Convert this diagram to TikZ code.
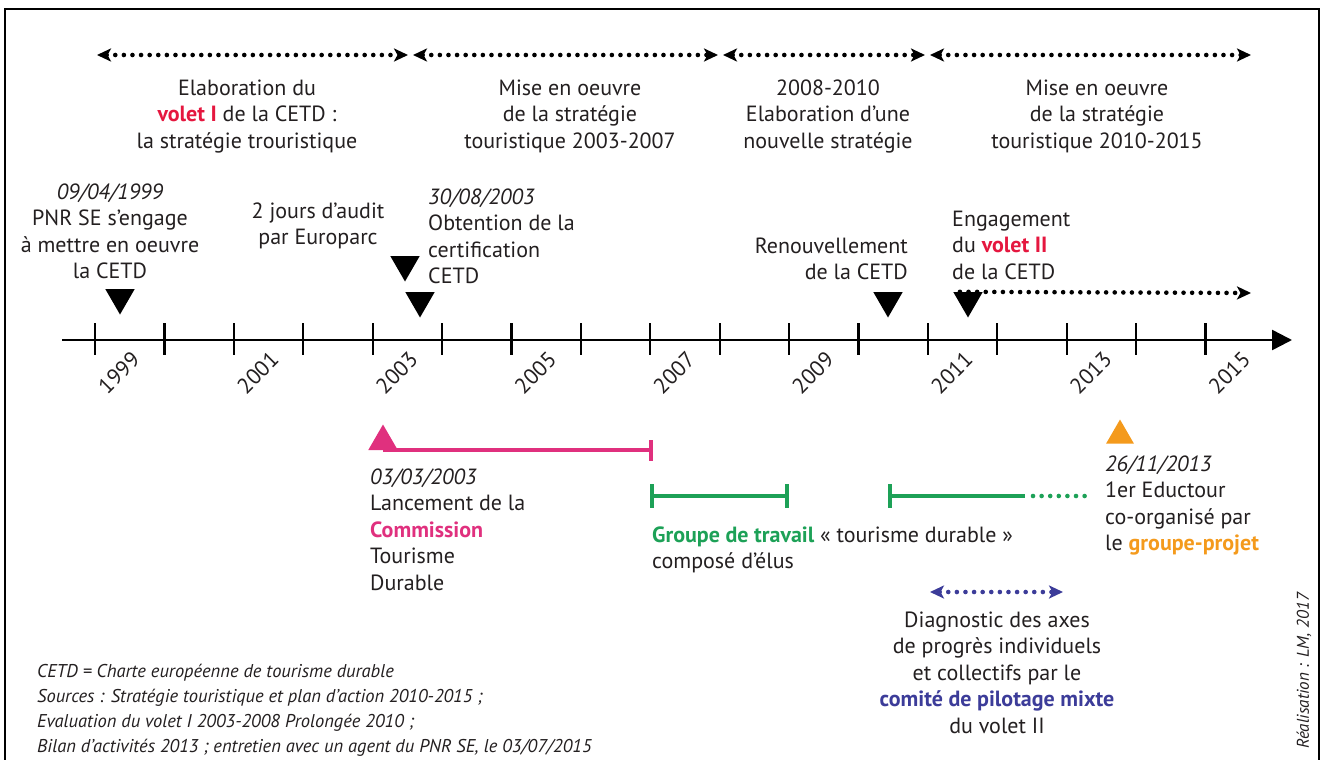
\documentclass[tikz,border=0pt]{standalone}
\usepackage{fontspec}
\setmainfont{PT Sans}
\usetikzlibrary{arrows.meta,shapes.geometric}
\definecolor{voletred}{HTML}{E5173F}
\definecolor{pinkc}{HTML}{E0307E}
\definecolor{greenc}{HTML}{1DA157}
\definecolor{orangec}{HTML}{F49A1C}
\definecolor{bluec}{HTML}{3C3C99}
\definecolor{txtc}{HTML}{231F20}
\begin{document}
\begin{tikzpicture}[x=1pt,y=-1pt,
  txt/.style={font=\fontsize{22}{26.5}\selectfont, inner sep=0pt, text=txtc},
  year/.style={font=\fontsize{22}{26.5}\selectfont, inner sep=0pt, rotate=45, text=txtc},
  note/.style={font=\fontsize{18.5}{25}\selectfont\itshape, inner sep=0pt, align=left, anchor=base west, text=txtc},
  tip/.style={Stealth[length=14pt,width=13pt,inset=3.5pt]},
  dotarrow/.style={line width=4.6pt, line cap=round, dash pattern=on 0pt off 8.6pt,
     {Stealth[length=14pt,width=13pt,inset=3.5pt]}-{Stealth[length=14pt,width=13pt,inset=3.5pt]}},
  dotline/.style={line width=4.6pt, line cap=round, dash pattern=on 0pt off 8.6pt},
  tickst/.style={line width=2.2pt},
  downtri/.style={regular polygon, regular polygon sides=3, shape border rotate=180,
     minimum size=34pt, inner sep=0pt, fill=black, draw=none},
  uptri/.style={regular polygon, regular polygon sides=3,
     minimum size=34pt, inner sep=0pt, draw=none},
  seg/.style={line width=3.5pt},
]
\useasboundingbox (0,0) rectangle (1325,760);
\draw[line width=2.5pt] (5,765) -- (5,9) -- (1319,9) -- (1319,765);

% top period arrows
\coordinate (p1a) at (97,55);  \coordinate (p1b) at (408,55);
\coordinate (p2a) at (413,55); \coordinate (p2b) at (718,55);
\coordinate (p3a) at (723,55); \coordinate (p3b) at (925,55);
\coordinate (p4a) at (930,55); \coordinate (p4b) at (1251,55);
\draw[dotarrow] (p1a) -- (p1b);
\draw[dotarrow] (p2a) -- (p2b);
\draw[dotarrow] (p3a) -- (p3b);
\draw[dotarrow] (p4a) -- (p4b);

\node[txt, align=center, anchor=base] (per1) at (247,148)
  {Elaboration du\\ \textbf{\color{voletred}volet I} de la CETD :\\ la stratégie trouristique};
\node[txt, align=center, anchor=base] (per2) at (570,148)
  {Mise en oeuvre\\ de la stratégie\\ touristique 2003-2007};
\node[txt, align=center, anchor=base] (per3) at (828,148)
  {2008-2010\\ Elaboration d’une\\ nouvelle stratégie};
\node[txt, align=center, anchor=base] (per4) at (1097,148)
  {Mise en oeuvre\\ de la stratégie\\ touristique 2010-2015};

% axis
\coordinate (axS) at (62,340);
\coordinate (axE) at (1292,340);
\draw[line width=2.5pt, -{Triangle[length=20pt,width=20pt]}] (axS) -- (axE);
\foreach \i in {0,...,16} \draw[tickst] ({95+69.4*\i},323) -- ++(0,32);
\foreach \y [count=\k from 0] in {1999,2001,2003,2005,2007,2009,2011,2013,2015}
  \node[year] (y\y) at ({95+138.8*\k+24},373) {\y};

% events above
\node[downtri] (m1999) at (120,297.5) {};
\node[downtri] (maudit) at (405,264.5) {};
\node[downtri] (mcert) at (420,300.5) {};
\node[downtri] (mrenouv) at (888,300.5) {};
\node[downtri] (mvolet2) at (968,300.5) {};
\coordinate (v2end) at (1251,293);
\draw[dotline, -{Stealth[length=14pt,width=13pt,inset=3.5pt]}] (mvolet2.corner 3) ++(7,0) -- (v2end);

\node[txt, align=center, anchor=base] (e1999) at (110,278.5)
  {\textit{09/04/1999}\\ PNR SE s’engage\\ à mettre en oeuvre\\ la CETD};
\node[txt, align=center, anchor=base] (eaudit) at (318,244.5)
  {2 jours d’audit\\ par Europarc};
\node[txt, align=left, anchor=base west] (ecert) at (428,283.5)
  {\textit{30/08/2003}\\ Obtention de la\\ certification\\ CETD};
\node[txt, align=right, anchor=base east] (erenouv) at (908,279.5)
  {Renouvellement\\ de la CETD};
\node[txt, align=left, anchor=base west] (evolet2) at (952,279)
  {Engagement\\ du \textbf{\color{voletred}volet II}\\ de la CETD};

% below: commission
\node[uptri, fill=pinkc] (mcomm) at (383,441.5) {};
\coordinate (commEnd) at (651,450);
\draw[seg, pinkc] (mcomm.center |- commEnd) -- (commEnd);
\draw[seg, pinkc] (651,440) -- (651,461);
\node[txt, align=left, anchor=base west] (ecomm) at (370,590)
  {\textit{03/03/2003}\\ Lancement de la\\ \textbf{\color{pinkc}Commission}\\ Tourisme\\ Durable};

% groupe de travail
\coordinate (g1a) at (652,496); \coordinate (g1b) at (787,496);
\coordinate (g2a) at (890,496); \coordinate (g2b) at (1025,496);
\coordinate (g2c) at (1085,496);
\draw[seg, greenc] (g1a) -- (g1b);
\draw[seg, greenc] (652,484) -- (652,508);
\draw[seg, greenc] (787,484) -- (787,508);
\draw[seg, greenc] (g2a) -- (g2b);
\draw[seg, greenc] (890,484) -- (890,508);
\draw[dotline, greenc] (g2b) ++(8,0) -- (g2c);
\node[txt, align=left, anchor=base west] (egroupe) at (652,568.5)
  {\textbf{\color{greenc}Groupe de travail} « tourisme durable »\\ composé d’élus};

% eductour
\node[uptri, fill=orangec, minimum size=32pt] (medu) at (1120,435.5) {};
\node[txt, align=left, anchor=base west] (eedu) at (1105,550.5)
  {\textit{26/11/2013}\\ 1er Eductour\\ co-organisé par\\ le \textbf{\color{orangec}groupe-projet}};

% diagnostic
\coordinate (da) at (930,592); \coordinate (db) at (1063,592);
\draw[dotarrow, bluec] (da) -- (db);
\node[txt, align=center, anchor=base] (ediag) at (997,733)
  {Diagnostic des axes\\ de progrès individuels\\ et collectifs par le\\ \textbf{\color{bluec}comité de pilotage mixte}\\ du volet II};

% notes
\node[note] (notes) at (37,752)
  {CETD = Charte européenne de tourisme durable\\
   Sources : Stratégie touristique et plan d’action 2010-2015 ;\\
   Evaluation du volet I 2003-2008 Prolongée 2010 ;\\
   Bilan d’activités 2013 ; entretien avec un agent du PNR SE, le 03/07/2015};
\node[font=\fontsize{17}{20}\selectfont\itshape, inner sep=0pt, rotate=90, text=txtc] (real) at (1304,671)
  {Réalisation : LM, 2017};
\end{tikzpicture}
\end{document}
